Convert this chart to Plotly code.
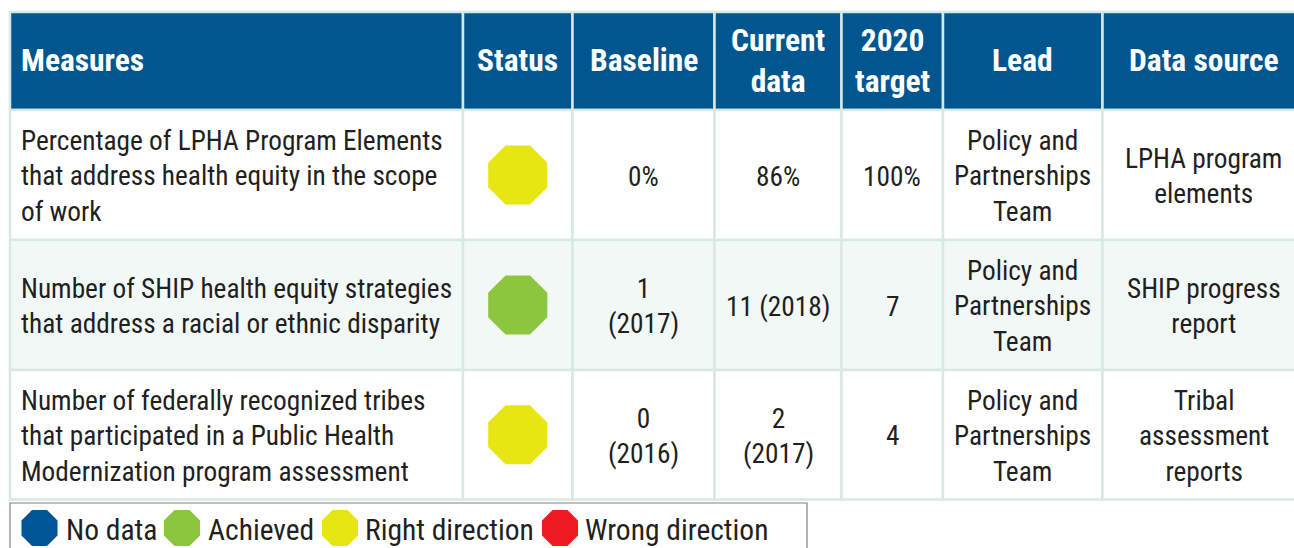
import plotly.graph_objects as go

# ---- data ----
headers = ["Measures", "Status", "Baseline", "Current<br>data", "2020<br>target", "Lead", "Data source"]
measures = [
    "Percentage of LPHA Program Elements<br>that address health equity in the scope<br>of work",
    "Number of SHIP health equity strategies<br>that address a racial or ethnic disparity",
    "Number of federally recognized tribes<br>that participated in a Public Health<br>Modernization program assessment",
]
status = ["Right direction", "Achieved", "Right direction"]
baseline = ["0%", "1<br>(2017)", "0<br>(2016)"]
current = ["86%", "11 (2018)", "2<br>(2017)"]
target = ["100%", "7", "4"]
lead = ["Policy and<br>Partnerships<br>Team"] * 3
source = ["LPHA program<br>elements", "SHIP progress<br>report", "Tribal<br>assessment<br>reports"]
legend_labels = ["No data", "Achieved", "Right direction", "Wrong direction"]
status_colors = {"No data": "#005596", "Achieved": "#8cc63f",
                 "Right direction": "#e8e612", "Wrong direction": "#ed1c24"}

# ---- layout grid (pixels) ----
W, H = 1294, 548
col_edges = [10, 463, 572.5, 714.5, 841.5, 943, 1102.5, 1300]
row_edges = [12, 110, 240, 370, 499.5]
centers = [(a + b) / 2 for a, b in zip(col_edges, col_edges[1:])]
row_mid = [(a + b) / 2 for a, b in zip(row_edges, row_edges[1:])]
centers[-1] = 1203.5

BLUE = "#01568f"
GRID = "#d8e9e4"
TEXT = "#231f20"
FONT = "Roboto Condensed"
BODY = 27.3
HEAD = 31.5
LEGEND = 29.5

shapes, ann = [], []
fills = [BLUE, "#ffffff", "#f2f8f6", "#ffffff"]
for r in range(4):
    for c in range(7):
        shapes.append(dict(type="rect", xref="x", yref="y", layer="below",
                           x0=col_edges[c], x1=col_edges[c + 1], y0=row_edges[r], y1=row_edges[r + 1],
                           fillcolor=fills[r], line=dict(color=GRID, width=2.5)))

def cell(x, y, text, size=BODY, color=TEXT, anchor="center", bold=False):
    ann.append(dict(x=x, y=y, xref="x", yref="y", text=f"<b>{text}</b>" if bold else text,
                    showarrow=False, xanchor=anchor, yanchor="middle",
                    align="left" if anchor == "left" else "center",
                    font=dict(family=FONT, size=size, color=color)))

for c, h in enumerate(headers):
    if c == 0:
        cell(19, row_mid[0] - 0.5, h, HEAD, "#ffffff", "left", True)
    else:
        cell(centers[c], row_mid[0] - 0.5, h, HEAD, "#ffffff", bold=True)

columns = [baseline, current, target, lead, source]
for r in range(3):
    y = row_mid[r + 1] + 1.5
    cell(19, y, measures[r], anchor="left")
    for i, col in enumerate(columns):
        cell(centers[i + 2], y, col[r])

# legend box
shapes.append(dict(type="rect", xref="x", yref="y", layer="below", x0=10, x1=807, y0=503, y1=560,
                   fillcolor="#ffffff", line=dict(color="#808285", width=1.2)))
legend_x = [39.5, 182, 340, 560]
legend_text_x = [64, 206, 363, 583]
for lab, tx in zip(legend_labels, legend_text_x):
    cell(tx, 530, lab, size=LEGEND, anchor="left")

fig = go.Figure()
fig.add_trace(go.Scatter(
    x=[centers[1]] * 3, y=row_mid[1:], mode="markers", hoverinfo="text", text=status,
    marker=dict(symbol="octagon", size=64, color=[status_colors[s] for s in status], line=dict(width=0)),
    showlegend=False))
fig.add_trace(go.Scatter(
    x=legend_x, y=[528] * 4, mode="markers", hoverinfo="text", text=legend_labels,
    marker=dict(symbol="octagon", size=39, color=[status_colors[s] for s in legend_labels], line=dict(width=0)),
    showlegend=False))

fig.update_layout(
    width=W, height=H, margin=dict(l=0, r=0, t=0, b=0),
    paper_bgcolor="#ffffff", plot_bgcolor="#ffffff",
    xaxis=dict(range=[0, W], visible=False, fixedrange=True),
    yaxis=dict(range=[H, 0], visible=False, fixedrange=True),
    shapes=shapes, annotations=ann,
)
fig.write_html("out.html", config={"displayModeBar": False},
               post_script="document.body.style.margin='0';document.body.style.overflow='hidden';")
